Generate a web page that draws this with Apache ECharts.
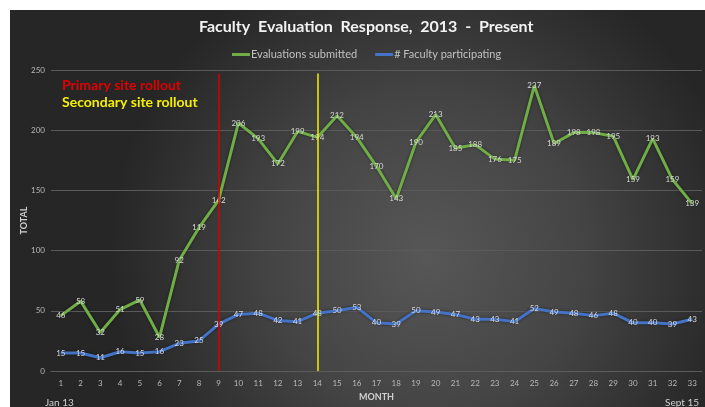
<!DOCTYPE html>
<html>
<head>
<meta charset="utf-8">
<script src="https://cdn.jsdelivr.net/npm/echarts@6/dist/echarts.min.js"></script>
<style>
html, body { margin: 0; padding: 0; background: #ffffff; }
#main { width: 705px; height: 407px; }
</style>
</head>
<body>
<div id="main"></div>
<script>
var months = [];
for (var i = 1; i <= 33; i++) { months.push(String(i)); }

var evaluations = [46, 58, 32, 51, 59, 28, 92, 119, 142, 206, 193, 172, 199, 194, 212, 194, 170, 143, 190, 213,
    185, 188, 176, 175, 237, 189, 198, 198, 195, 159, 193, 159, 139];
var faculty = [15, 15, 11, 16, 15, 16, 23, 25, 39, 47, 48, 42, 41, 48, 50, 53, 40, 39, 50, 49,
    47, 43, 43, 41, 52, 49, 48, 46, 48, 40, 40, 39, 43];

var yTicks = [0, 50, 100, 150, 200, 250];
var primaryMonth = '9';
var secondaryMonth = '14';

var font = 'Lato';

function dataLabel() {
    return {
        show: true,
        position: 'inside',
        color: '#d8d8d8',
        fontSize: 8,
        fontFamily: font
    };
}

function rollout(month, color) {
    return {
        silent: true,
        symbol: 'none',
        label: { show: false },
        lineStyle: { color: color, width: 1.5, type: 'solid' },
        data: [[{ coord: [month, 0] }, { coord: [month, 247] }]]
    };
}

var option = {
    backgroundColor: '#ffffff',
    animation: false,
    graphic: [
        {
            type: 'rect',
            z: -10,
            shape: { x: 10, y: 10, width: 695, height: 397 },
            style: {
                fill: new echarts.graphic.RadialGradient(0.6, 0.62, 0.8, [
                    { offset: 0, color: '#575757' },
                    { offset: 0.5, color: '#444444' },
                    { offset: 1, color: '#262626' }
                ])
            }
        },
        {
            type: 'text', left: 62, top: 78,
            style: { text: 'Primary site rollout', fill: '#e00000', font: 'bold 14px ' + font }
        },
        {
            type: 'text', left: 62, top: 95,
            style: { text: 'Secondary site rollout', fill: '#f5f000', font: 'bold 14px ' + font }
        },
        {
            type: 'text', left: 45, top: 398,
            style: { text: 'Jan 13', fill: '#d0d0d0', font: '10px ' + font }
        },
        {
            type: 'text', right: 6, top: 398,
            style: { text: 'Sept 15', fill: '#d0d0d0', font: '10px ' + font }
        }
    ],
    title: {
        text: 'Faculty  Evaluation  Response,  2013  -  Present',
        left: 194,
        top: 14,
        textStyle: { color: '#f2f2f2', fontSize: 16, fontWeight: 'bold', fontFamily: font }
    },
    legend: {
        top: 44,
        left: 227,
        itemGap: 18,
        itemWidth: 18,
        itemHeight: 3,
        icon: 'rect',
        textStyle: { color: '#c0c0c0', fontSize: 11, fontFamily: font, padding: [0, 0, 0, -4] },
        data: ['Evaluations submitted', '# Faculty participating']
    },
    grid: { left: 51, right: 3, top: 70, bottom: 33 },
    xAxis: {
        type: 'category',
        data: months,
        name: 'MONTH',
        nameLocation: 'middle',
        nameGap: 22,
        nameTextStyle: { color: '#d0d0d0', fontSize: 9, fontWeight: 'bold', fontFamily: font },
        axisLine: { lineStyle: { color: '#5c5c5c' } },
        axisTick: { show: false },
        axisLabel: { color: '#b8b8b8', fontSize: 8, fontFamily: font, interval: 0, margin: 8 }
    },
    yAxis: {
        type: 'value',
        min: 0,
        max: 250,
        interval: 50,
        name: 'TOTAL',
        nameLocation: 'middle',
        nameGap: 22,
        nameMoveOverlap: false,
        nameRotate: 90,
        nameTextStyle: { color: '#d0d0d0', fontSize: 9, fontWeight: 'bold', fontFamily: font },
        axisLine: { show: false },
        axisTick: { show: false },
        axisLabel: { color: '#b8b8b8', fontSize: 8, fontFamily: font, margin: 6 },
        splitLine: { lineStyle: { color: '#5a5a5a', width: 1 } }
    },
    series: [
        {
            name: 'Evaluations submitted',
            type: 'line',
            data: evaluations,
            symbol: 'circle',
            symbolSize: 1,
            showSymbol: true,
            color: '#70ad47',
            itemStyle: { color: '#70ad47' },
            lineStyle: { width: 3, color: '#70ad47', shadowColor: 'rgba(0,0,0,0.5)', shadowBlur: 3 },
            label: dataLabel(),
            markLine: rollout(primaryMonth, '#d80000')
        },
        {
            name: '# Faculty participating',
            type: 'line',
            data: faculty,
            symbol: 'circle',
            symbolSize: 1,
            showSymbol: true,
            color: '#4472c4',
            itemStyle: { color: '#4472c4' },
            lineStyle: { width: 3, color: '#4472c4', shadowColor: 'rgba(0,0,0,0.5)', shadowBlur: 3 },
            label: dataLabel(),
            markLine: rollout(secondaryMonth, '#f5f000')
        }
    ]
};

var myChart = echarts.init(document.getElementById('main'));
myChart.setOption(option);
</script>
</body>
</html>
